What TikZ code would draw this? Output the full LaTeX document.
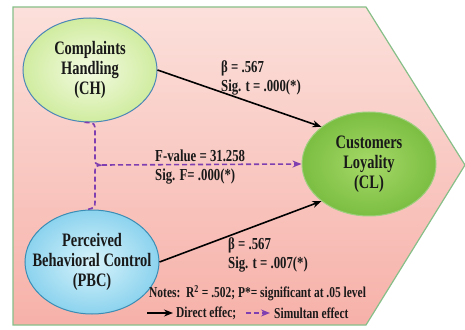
\documentclass[tikz,border=0pt]{standalone}
\usepackage{fontspec}
\setmainfont{Liberation Serif}[FakeStretch=0.76]
\usepackage{tikz}
\usetikzlibrary{positioning,arrows.meta,shapes.geometric}
\definecolor{bgtop}{HTML}{FCE0DB}
\definecolor{bgbot}{HTML}{F6B1A9}
\definecolor{bordergreen}{HTML}{86BF88}
\definecolor{chin}{HTML}{F4FBE2}
\definecolor{chout}{HTML}{D0ECA0}
\definecolor{chline}{HTML}{4A86B8}
\definecolor{pbcin}{HTML}{D8F3FB}
\definecolor{pbcout}{HTML}{8CD3EE}
\definecolor{pbcline}{HTML}{3A8DB5}
\definecolor{clin}{HTML}{A6D968}
\definecolor{clout}{HTML}{7BBE42}
\definecolor{clline}{HTML}{9ECF7E}
\definecolor{simcol}{HTML}{7F3FB0}

\begin{document}
\begin{tikzpicture}[
    x=1pt, y=1pt,
    >={Stealth[length=9pt,width=7pt]},
    every node/.style={font=\bfseries, align=center, text=black!90},
    ell/.style={ellipse, draw, line width=1pt, shading=radial, minimum width=134pt, minimum height=104pt, inner sep=0pt},
    big/.style={font=\fontsize{19}{20}\selectfont\bfseries},
    lab/.style={font=\fontsize{16.8}{19}\selectfont\bfseries, align=left, anchor=west, inner sep=0pt},
    small/.style={font=\fontsize{15.1}{17}\selectfont\bfseries, align=left, anchor=west, inner sep=0pt},
    direct/.style={->, line width=1.6pt, black},
    simul/.style={->, line width=1.6pt, simcol, dash pattern=on 5pt off 3pt}
]

\useasboundingbox (0,0) rectangle (465,329);
\path[draw=bordergreen, line width=1.2pt, top color=bgtop, bottom color=bgbot]
    (13,322) -- (366,322) -- (465,164) -- (366,4) -- (13,4) -- cycle;

\node[ell, draw=chline, inner color=chin, outer color=chout,
    label={[big]center:Complaints\\Handling\\(CH)}] (CH) at (90,259) {};
\node[ell, draw=pbcline, inner color=pbcin, outer color=pbcout,
    label={[big]center:Perceived\\Behavioral Control\\(PBC)}] (PBC) at (92,67) {};
\node[ell, draw=clline, inner color=clin, outer color=clout,
    label={[big]center:Customers\\Loyality\\(CL)}] (CL) at (369,165) {};

\node[lab] (b1) at (221,251.5) {β = .567\\Sig. t = .000(*)};
\node[lab] (b2) at (228,74) {β = .567\\Sig. t = .007(*)};
\node[lab] (fv) at (155,162) {F-value = 31.258\\Sig. F= .000(*)};
\node[small] (notes) at (149,36) {Notes:\ \ R\textsuperscript{2} = .502; P*= significant at .05 level};

\coordinate (dir0) at (147,16);
\node[small, right=29pt of dir0] (dir) {Direct effec;};
\coordinate (sim0) at (246,16);
\node[small, right=28pt of sim0] (sim) {Simultan effect};

\coordinate (fork) at (102,164);
\draw[direct] (CH.east) -- (CL.142);
\draw[direct] (PBC.east) -- (CL.218);
\draw[simul, -] (CH.264) .. controls (95,206) .. (95,197) -- (95,171)
    .. controls (95,165) .. (fork) .. controls (95,163) .. (95,157) -- (95,129)
    .. controls (95,121) .. (PBC.97);
\draw[simul] (fork) -- (CL.west);
\draw[direct, shorten >=3pt] (dir0) -- (dir.west);
\draw[simul, shorten >=4pt] (sim0) -- (sim.west);

\end{tikzpicture}
\end{document}
